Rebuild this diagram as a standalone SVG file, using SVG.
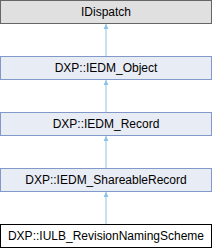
<svg xmlns="http://www.w3.org/2000/svg" width="212" height="248" viewBox="0 0 212 248">
<style>
.n rect{stroke-width:1}
.base rect{fill:#e0e0e0;stroke:#666666}
.cls rect{fill:#e8ecf5;stroke:#8298c8}
.cur rect{fill:#ffffff;stroke:#000000}
text{font-family:"Liberation Sans",Arial,sans-serif;font-size:12px;text-anchor:middle;fill:#000000}
.e line{stroke:#8ec3e6;stroke-width:1;fill:none}
</style>
<defs>
<marker id="ah" viewBox="0 0 10 10" refX="10" refY="5" markerWidth="5" markerHeight="5" orient="auto" markerUnits="userSpaceOnUse">
<path d="M0,0 L10,5 L0,10 Z" fill="#8ec3e6"/>
</marker>
</defs>
<g id="connectors" class="e">
<line x1="106" y1="56" x2="106" y2="24" marker-end="url(#ah)"/>
<line x1="106" y1="112" x2="106" y2="80" marker-end="url(#ah)"/>
<line x1="106" y1="168" x2="106" y2="136" marker-end="url(#ah)"/>
<line x1="106" y1="224" x2="106" y2="192" marker-end="url(#ah)"/>
</g>
<g id="node-IDispatch" class="n base">
<rect x="0.5" y="0.5" width="211" height="23"/>
<text x="106" y="16">IDispatch</text>
</g>
<g id="node-IEDM_Object" class="n cls">
<rect x="0.5" y="56.5" width="211" height="23"/>
<text x="106" y="72">DXP::IEDM_Object</text>
</g>
<g id="node-IEDM_Record" class="n cls">
<rect x="0.5" y="112.5" width="211" height="23"/>
<text x="106" y="128">DXP::IEDM_Record</text>
</g>
<g id="node-IEDM_ShareableRecord" class="n cls">
<rect x="0.5" y="168.5" width="211" height="23"/>
<text x="106" y="184">DXP::IEDM_ShareableRecord</text>
</g>
<g id="node-IULB_RevisionNamingScheme" class="n cur">
<rect x="0.5" y="224.5" width="211" height="23"/>
<text x="106" y="240">DXP::IULB_RevisionNamingScheme</text>
</g>
</svg>
